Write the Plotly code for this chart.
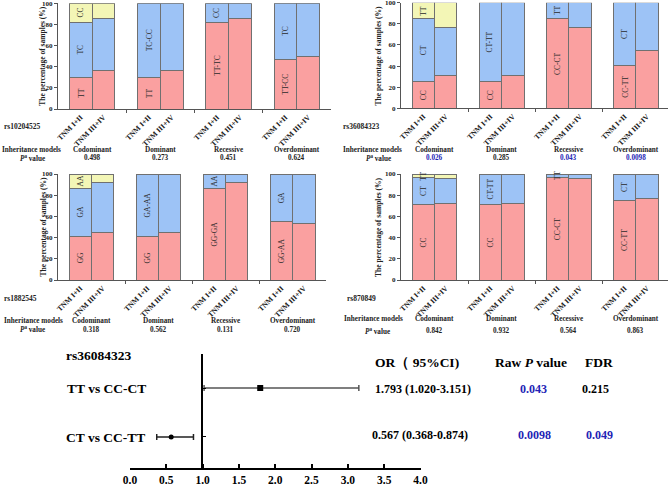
import plotly.graph_objects as go

W, H = 669, 485
SERIF = "Liberation Serif, Times New Roman, serif"
RED = "#FAA0A0"
BLUE = "#9DC3F6"
YELLOW = "#F3F6B6"
EDGE = "#707070"
AXC = "#555555"
PBLUE = "#2323B5"

# ---------------- data ----------------
stages = ["TNM I+II", "TNM III+IV"]
models = ["Codominant", "Dominant", "Recessive", "Overdominant"]

rs10204525_genotypes = ["TT", "TC", "CC"]
rs10204525_codominant = [[30.0, 36.0], [52.0, 49.5], [18.0, 14.5]]
rs10204525_dominant = [[30.0, 36.0], [70.0, 64.0]]
rs10204525_recessive = [[82.0, 85.5], [18.0, 14.5]]
rs10204525_overdominant = [[47.0, 49.8], [53.0, 50.2]]
rs10204525_p = ["0.498", "0.273", "0.451", "0.624"]

rs36084323_genotypes = ["CC", "CT", "TT"]
rs36084323_codominant = [[25.6, 30.9], [59.6, 45.8], [14.8, 23.3]]
rs36084323_dominant = [[25.6, 30.9], [74.4, 69.1]]
rs36084323_recessive = [[85.2, 76.7], [14.8, 23.3]]
rs36084323_overdominant = [[40.1, 54.3], [59.9, 45.7]]
rs36084323_p = ["0.026", "0.285", "0.043", "0.0098"]

rs1882545_genotypes = ["GG", "GA", "AA"]
rs1882545_codominant = [[41.5, 45.0], [45.0, 47.1], [13.5, 7.9]]
rs1882545_dominant = [[41.5, 45.0], [58.5, 55.0]]
rs1882545_recessive = [[86.5, 92.1], [13.5, 7.9]]
rs1882545_overdominant = [[55.0, 53.5], [45.0, 46.5]]
rs1882545_p = ["0.318", "0.562", "0.131", "0.720"]

rs870849_genotypes = ["CC", "CT", "TT"]
rs870849_codominant = [[71.6, 71.9], [25.3, 24.1], [3.1, 4.0]]
rs870849_dominant = [[71.6, 71.9], [28.4, 28.1]]
rs870849_recessive = [[96.9, 96.0], [3.1, 4.0]]
rs870849_overdominant = [[75.0, 76.6], [25.0, 23.4]]
rs870849_p = ["0.842", "0.932", "0.564", "0.863"]

forest_snp = "rs36084323"
forest_rows = ["TT vs CC-CT", "CT vs CC-TT"]
forest_or = [1.793, 0.567]
forest_ci_low = [1.020, 0.368]
forest_ci_high = [3.151, 0.874]
forest_raw_p = ["0.043", "0.0098"]
forest_fdr = ["0.215", "0.049"]
forest_ticks = [0.0, 0.5, 1.0, 1.5, 2.0, 2.5, 3.0, 3.5, 4.0]

snps = [
    ("rs10204525", rs10204525_genotypes, rs10204525_codominant, rs10204525_dominant,
     rs10204525_recessive, rs10204525_overdominant, rs10204525_p),
    ("rs36084323", rs36084323_genotypes, rs36084323_codominant, rs36084323_dominant,
     rs36084323_recessive, rs36084323_overdominant, rs36084323_p),
    ("rs1882545", rs1882545_genotypes, rs1882545_codominant, rs1882545_dominant,
     rs1882545_recessive, rs1882545_overdominant, rs1882545_p),
    ("rs870849", rs870849_genotypes, rs870849_codominant, rs870849_dominant,
     rs870849_recessive, rs870849_overdominant, rs870849_p),
]

# ---------------- layout geometry (pixels) ----------------
def px(x):
    return x / W

def py(y):
    return 1 - y / H

panels = [
    dict(x0=58, x1=331, xr=[-1, 11], ytop=3.3, ybot=109, ytitle_x=42.5,
         name_xy=(22, 127), im_xy=(31, 150), pv_xy=(32, 158.5), model_y=150, p_y=158.5),
    dict(x0=401, x1=668.3, xr=[-1, 10.95], ytop=2.7, ybot=108.3, ytitle_x=378,
         name_xy=(361, 127), im_xy=(372, 150), pv_xy=(378, 158.5), model_y=150, p_y=158.5),
    dict(x0=58, x1=326.2, xr=[-1, 11], ytop=174, ybot=280, ytitle_x=42.5,
         name_xy=(20, 298), im_xy=(33, 321), pv_xy=(32, 329.5), model_y=321, p_y=329.5),
    dict(x0=401, x1=668.3, xr=[-1, 10.95], ytop=174, ybot=280, ytitle_x=378,
         name_xy=(361, 298), im_xy=(373, 319), pv_xy=(377, 331), model_y=319, p_y=331),
]

fig = go.Figure()
annotations = []
layout_axes = {}

colors = [RED, BLUE, YELLOW]


def ann(x, y, text, size, color="#222", xref="paper", yref="paper", xanchor="center",
        angle=0, bold=True):
    annotations.append(dict(
        x=x, y=y, xref=xref, yref=yref, text=f"<b>{text}</b>" if bold else text,
        showarrow=False, xanchor=xanchor, yanchor="middle", textangle=angle,
        font=dict(family=SERIF, size=size, color=color)))


for i, (snp, gt, codom, dom, rec, over, pvals) in enumerate(snps):
    pnl = panels[i]
    n = i + 1
    xa = "x" if n == 1 else f"x{n}"
    ya = "y" if n == 1 else f"y{n}"
    model_data = [codom, dom, rec, over]
    model_labels = [
        [gt[0], gt[1], gt[2]],
        [gt[0], gt[1] + "-" + gt[2]],
        [gt[0] + "-" + gt[1], gt[2]],
        [gt[0] + "-" + gt[2], gt[1]],
    ]
    for level in range(3):
        xs, ys = [], []
        for g, segs in enumerate(model_data):
            if level < len(segs):
                for b in range(2):
                    xs.append(g * 3 + b)
                    ys.append(segs[level][b])
        fig.add_trace(go.Bar(
            x=xs, y=ys, xaxis=xa, yaxis=ya, width=1.0,
            marker=dict(color=colors[level], line=dict(color=EDGE, width=1)),
            showlegend=False, hoverinfo="skip"))
    for g, segs in enumerate(model_data):
        cum = 0
        for level, seg in enumerate(segs):
            mid = cum + seg[0] / 2
            cum += seg[0]
            ann(g * 3, mid, model_labels[g][level], 7.5, "#2a2a2a", xref=xa, yref=ya,
                angle=-90, bold=False)
    tickvals = [g * 3 + b for g in range(4) for b in range(2)]
    ticktext = [stages[b] for g in range(4) for b in range(2)]
    layout_axes["xaxis" if n == 1 else f"xaxis{n}"] = dict(
        domain=[px(pnl["x0"]), px(pnl["x1"])], range=pnl["xr"], anchor=ya,
        showline=True, linecolor=AXC, linewidth=1, showgrid=False, zeroline=False,
        tickmode="array", tickvals=tickvals, ticktext=ticktext, tickangle=-45,
        ticks="", tickfont=dict(family=SERIF, size=7.5, color="#222", weight="bold"),
        ticklabeloverflow="allow",
        minor=dict(tickmode="array", tickvals=[2, 5, 8], ticks="outside", ticklen=3,
                   tickcolor=AXC, tickwidth=1, showgrid=False),
        fixedrange=True, automargin=False)
    layout_axes["yaxis" if n == 1 else f"yaxis{n}"] = dict(
        domain=[py(pnl["ybot"]), py(pnl["ytop"])], range=[0, 100], anchor=xa,
        showline=True, linecolor=AXC, linewidth=1, showgrid=False, zeroline=False,
        tickmode="array", tickvals=[0, 20, 40, 60, 80, 100], ticks="outside",
        ticklen=3, tickcolor=AXC, ticklabeloverflow="allow",
        tickfont=dict(family=SERIF, size=7, color="#222", weight="bold"),
        fixedrange=True, automargin=False)
    ann(px(pnl["ytitle_x"]), py((pnl["ytop"] + pnl["ybot"]) / 2),
        "The percentage of samples (%)", 7.5, angle=-90)
    ann(px(pnl["name_xy"][0]), py(pnl["name_xy"][1]), snp, 7.5)
    ann(px(pnl["im_xy"][0]), py(pnl["im_xy"][1]), "Inheritance models", 7.2)
    ann(px(pnl["pv_xy"][0]), py(pnl["pv_xy"][1]), "<i>P</i><sup>a</sup> value", 7.2)
    for g in range(4):
        ann(g * 3 + 0.5, py(pnl["model_y"]), models[g], 7.2, xref=xa)
        pc = PBLUE if float(pvals[g]) < 0.05 else "#222"
        ann(g * 3 + 0.5, py(pnl["p_y"]), pvals[g], 7.2, pc, xref=xa)

# ---------------- forest plot ----------------
row_y = [1, 0]
markers = ["square", "circle"]
msize = [6, 5]
lcol = ["#555555", "#222222"]
for r in range(2):
    fig.add_trace(go.Scatter(
        x=[forest_or[r]], y=[row_y[r]], xaxis="x5", yaxis="y5", mode="markers",
        marker=dict(symbol=markers[r], size=msize[r], color="black"),
        error_x=dict(type="data", symmetric=False,
                     array=[forest_ci_high[r] - forest_or[r]],
                     arrayminus=[forest_or[r] - forest_ci_low[r]],
                     color=lcol[r], thickness=1.5, width=3),
        showlegend=False, hoverinfo="skip"))

layout_axes["xaxis5"] = dict(
    domain=[px(130), px(420.5)], range=[0, 4], anchor="y5",
    showline=True, linecolor="black", linewidth=2, showgrid=False, zeroline=False,
    tickmode="array", tickvals=forest_ticks, ticktext=[f"{t:.1f}" for t in forest_ticks],
    ticks="inside", ticklen=4, tickwidth=2, tickcolor="black", ticklabeloverflow="allow",
    tickfont=dict(family=SERIF, size=11.5, color="black", weight="bold"),
    fixedrange=True, automargin=False)
layout_axes["yaxis5"] = dict(
    domain=[py(467.7), py(354)], range=[-0.627, 1.694], anchor="free", position=px(202.3),
    showline=True, linecolor="black", linewidth=2, showgrid=False, zeroline=False,
    tickmode="array", tickvals=row_y, ticks="inside", ticklen=3, tickcolor="black",
    showticklabels=False, fixedrange=True, automargin=False)

ann(px(64), py(355), forest_snp, 13.5, "black", xanchor="left")
ann(px(65), py(388), forest_rows[0], 13.5, "black", xanchor="left")
ann(px(64), py(437), forest_rows[1], 13.5, "black", xanchor="left")
ann(px(372.5), py(362), "OR（ 95%CI)", 13.5, "black", xanchor="left")
ann(px(492.5), py(362), "Raw <i>P</i> value", 13.5, "black", xanchor="left")
ann(px(582.5), py(362), "FDR", 13.5, "black", xanchor="left")
row_text_y = [389, 435]
row_text_x = [373, 370]
raw_x = [533.5, 534]
fdr_x = [595, 599]
for r in range(2):
    ann(px(row_text_x[r]), py(row_text_y[r]),
        f"{forest_or[r]:.3f} ({forest_ci_low[r]:.3f}-{forest_ci_high[r]:.3f})", 12,
        "black", xanchor="left")
    ann(px(raw_x[r]), py(row_text_y[r]), forest_raw_p[r], 12,
        PBLUE if float(forest_raw_p[r]) < 0.05 else "black")
    ann(px(fdr_x[r]), py(row_text_y[r]), forest_fdr[r], 12,
        PBLUE if float(forest_fdr[r]) < 0.05 else "black")

fig.update_layout(
    template="none", width=W, height=H, margin=dict(l=0, r=0, t=0, b=0),
    paper_bgcolor="white", plot_bgcolor="rgba(0,0,0,0)", barmode="stack", bargap=0,
    showlegend=False, annotations=annotations, **layout_axes)

fig.write_html("out.html",
               config={"displayModeBar": False, "staticPlot": True},
               post_script="document.body.style.margin='0px';"
                           "document.body.style.overflow='hidden';")
